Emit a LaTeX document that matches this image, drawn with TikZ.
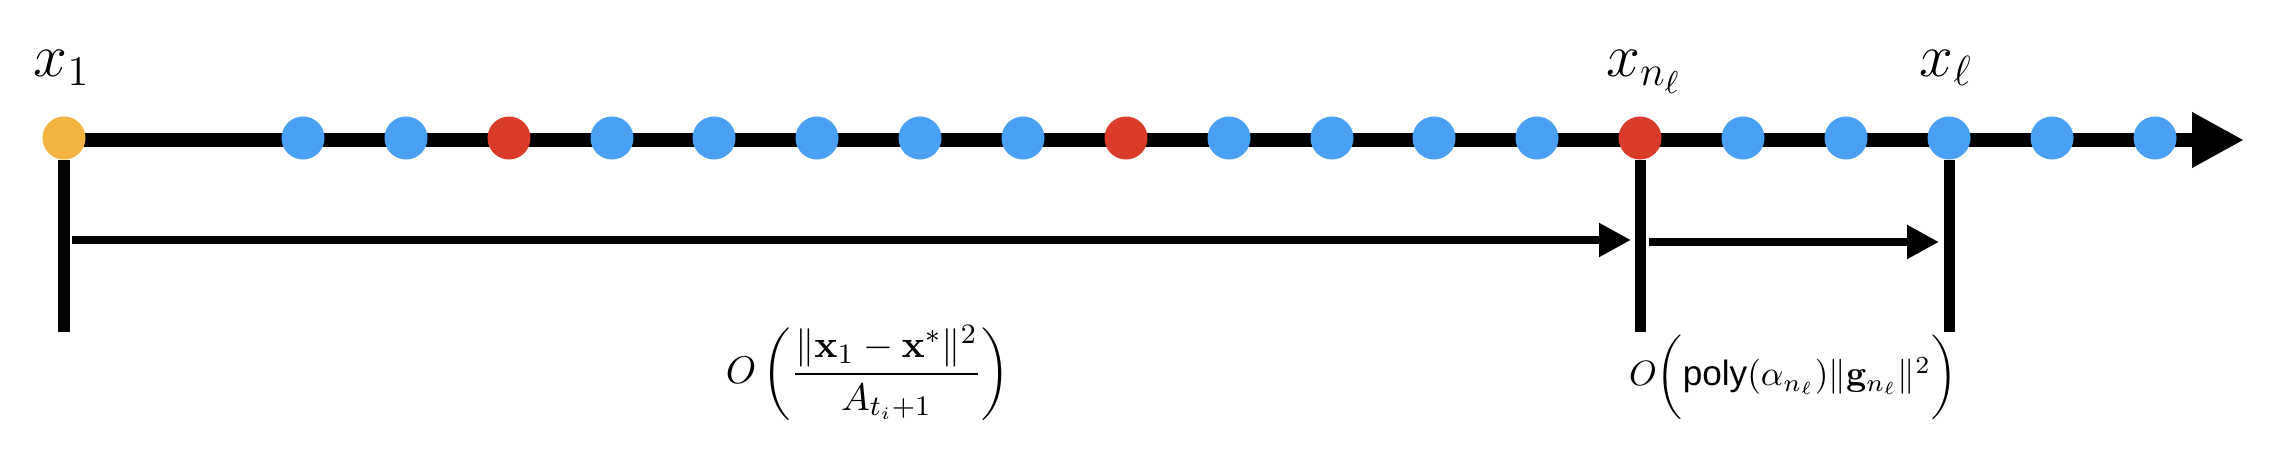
\documentclass[tikz,border=0pt]{standalone}
\usepackage{amsmath}
\usepackage[no-math]{fontspec}
\setsansfont{Liberation Sans}
\usetikzlibrary{arrows.meta}
\definecolor{dotorange}{RGB}{242,179,64}
\definecolor{dotblue}{RGB}{74,160,245}
\definecolor{dotred}{RGB}{217,60,40}
\tikzset{
  dot/.style={circle, inner sep=0pt, minimum size=0.43cm},
  axis/.style={line width=0.14cm, -{Triangle[length=0.52cm,width=0.52cm]}},
  tick/.style={line width=0.11cm},
  span/.style={line width=0.08cm, -{Triangle[length=0.32cm,width=0.32cm]}},
  lab/.style={font=\fontsize{18}{22}\selectfont},
  cost/.style={font=\fontsize{11}{13}\selectfont}
}
\begin{document}
\begin{tikzpicture}[x=0.01cm,y=-0.01cm]
      \useasboundingbox (0,0) rectangle (2286,452);
      \coordinate (start) at (64,140);
      \coordinate (end) at (2244,140);
      \draw[axis] (start) -- (end);
      \draw
        (64,138) node[dot,fill=dotorange] (0){}
        (303,138) node[dot,fill=dotblue] (1){}
        (406,138) node[dot,fill=dotblue] (2){}
        (509,138) node[dot,fill=dotred] (3){}
        (612,138) node[dot,fill=dotblue] (4){}
        (714,138) node[dot,fill=dotblue] (5){}
        (817,138) node[dot,fill=dotblue] (6){}
        (920,138) node[dot,fill=dotblue] (7){}
        (1023,138) node[dot,fill=dotblue] (8){}
        (1126,138) node[dot,fill=dotred] (9){}
        (1229,138) node[dot,fill=dotblue] (10){}
        (1332,138) node[dot,fill=dotblue] (11){}
        (1434,138) node[dot,fill=dotblue] (12){}
        (1537,138) node[dot,fill=dotblue] (13){}
        (1640,138) node[dot,fill=dotred] (14){}
        (1743,138) node[dot,fill=dotblue] (15){}
        (1846,138) node[dot,fill=dotblue] (16){}
        (1949,138) node[dot,fill=dotblue] (17){}
        (2052,138) node[dot,fill=dotblue] (18){}
        (2155,138) node[dot,fill=dotblue] (19){};
      \node[lab] (l0) at (62,68) {$x_1$};
      \node[lab] (l14) at (1644,72) {$x_{n_\ell}$};
      \node[lab] (l17) at (1946,68) {$x_\ell$};
      \coordinate (t0) at (64,332);
      \coordinate (t14) at (1640,332);
      \coordinate (t17) at (1949,332);
      \begin{scope}[tick]
        \draw (0.south) to (t0);
        \draw (14.south) to (t14);
        \draw (17.south) to (t17);
      \end{scope}
      \coordinate (s0) at (72,240);
      \coordinate (e0) at (1631,240);
      \coordinate (s1) at (1649,242);
      \coordinate (e1) at (1939,242);
      \begin{scope}[span]
        \draw (s0) to (e0);
        \draw (s1) to (e1);
      \end{scope}
      \node[cost] (f0) at (868,373)
        {$\displaystyle O\left(\frac{\|\mathbf{x}_1-\mathbf{x}^*\|^2}{A_{t_i+1}}\right)$};
      \node (f1) at (1793,377)
        {$O\bigg(\textsf{poly}(\alpha_{n_\ell})\|\mathbf{g}_{n_\ell}\|^2\bigg)$};
    \end{tikzpicture}
\end{document}
